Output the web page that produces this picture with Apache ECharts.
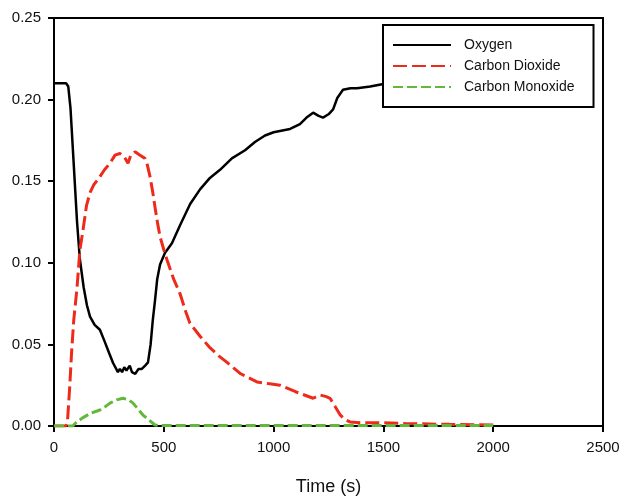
<!DOCTYPE html>
<html>
<head>
<meta charset="utf-8">
<script src="https://cdn.jsdelivr.net/npm/echarts@6/dist/echarts.min.js"></script>
<style>
  html, body { margin: 0; padding: 0; background: #fff; }
  #chart { width: 621px; height: 499px; }
</style>
</head>
<body>
<div id="chart"></div>
<script>
// gas concentration vs time
var seriesNames = ['Oxygen', 'Carbon Dioxide', 'Carbon Monoxide'];
var xTicks = [0, 500, 1000, 1500, 2000, 2500];
var yTicks = [0, 0.05, 0.10, 0.15, 0.20, 0.25];

var oxygen = [
    [0, 0.21], [55, 0.21], [65, 0.208], [75, 0.195], [90, 0.16], [105, 0.125],
    [118, 0.102], [135, 0.085], [150, 0.074], [164, 0.067], [185, 0.062], [209, 0.059],
    [230, 0.052], [250, 0.045], [269, 0.0386], [291, 0.033], [300, 0.035], [310, 0.033],
    [320, 0.036], [330, 0.034], [345, 0.037], [355, 0.033], [370, 0.032], [385, 0.035],
    [400, 0.035], [415, 0.037], [428, 0.039], [440, 0.05], [450, 0.065], [460, 0.077],
    [470, 0.09], [483, 0.099], [505, 0.106], [537, 0.112], [574, 0.123], [620, 0.136],
    [665, 0.145], [710, 0.152], [756, 0.157], [810, 0.164], [870, 0.169], [915, 0.174],
    [961, 0.178], [1000, 0.180], [1075, 0.182], [1120, 0.185], [1150, 0.189], [1180, 0.192],
    [1205, 0.190], [1225, 0.189], [1250, 0.191], [1271, 0.194], [1290, 0.201], [1316, 0.206],
    [1350, 0.207], [1380, 0.207], [1440, 0.208], [1500, 0.2096], [1600, 0.21], [2000, 0.21]
];
var carbonDioxide = [
    [0, 0], [55, 0], [62, 0.004], [72, 0.025], [80, 0.045], [90, 0.065], [105, 0.085],
    [118, 0.108], [132, 0.12], [148, 0.135], [164, 0.143], [182, 0.148], [200, 0.151],
    [230, 0.157], [255, 0.161], [278, 0.166], [300, 0.167], [320, 0.165], [337, 0.161],
    [350, 0.166], [369, 0.168], [390, 0.166], [414, 0.164], [425, 0.16], [437, 0.153],
    [450, 0.143], [460, 0.134], [472, 0.124], [483, 0.116], [500, 0.108], [514, 0.102],
    [545, 0.09], [574, 0.081], [600, 0.07], [619, 0.063], [665, 0.055], [710, 0.048],
    [750, 0.043], [788, 0.039], [850, 0.032], [924, 0.027], [975, 0.026], [1029, 0.025],
    [1100, 0.021], [1180, 0.017], [1211, 0.019], [1240, 0.018], [1257, 0.017], [1280, 0.012],
    [1302, 0.007], [1325, 0.004], [1348, 0.0025], [1400, 0.002], [1500, 0.002], [1600, 0.0015],
    [1800, 0.001], [2000, 0.0006]
];
var carbonMonoxide = [
    [0, 0], [85, 0], [100, 0.002], [130, 0.005], [170, 0.008], [209, 0.0098], [235, 0.012],
    [255, 0.014], [285, 0.016], [314, 0.017], [340, 0.016], [360, 0.014], [385, 0.01],
    [405, 0.0067], [430, 0.004], [460, 0.0006], [480, 0.0003], [2000, 0.0003]
];

var chart = echarts.init(document.getElementById('chart'));
var font = 'Arial, "Liberation Sans", sans-serif';

var option = {
    animation: false,
    backgroundColor: '#fff',
    grid: {
        left: 54,
        right: 18,
        top: 18,
        bottom: 73,
        outerBoundsMode: 'none',
        show: true,
        borderColor: '#000',
        borderWidth: 2
    },
    legend: {
        orient: 'vertical',
        left: 383,
        top: 25,
        padding: [13, 19, 13, 9],
        itemWidth: 58,
        itemHeight: 14,
        itemGap: 7,
        backgroundColor: '#fff',
        borderColor: '#000',
        borderWidth: 2,
        itemStyle: { opacity: 0 },
        data: seriesNames,
        textStyle: {
            fontFamily: font,
            fontSize: 14,
            color: '#111',
            padding: [0, 0, 0, 8]
        }
    },
    xAxis: {
        type: 'value',
        min: xTicks[0],
        max: xTicks[xTicks.length - 1],
        interval: 500,
        name: 'Time (s)',
        nameLocation: 'middle',
        nameGap: 52,
        nameTextStyle: { fontFamily: font, fontSize: 18, color: '#111' },
        axisLine: { lineStyle: { color: '#000', width: 2 } },
        axisTick: { length: 6, lineStyle: { color: '#000', width: 2 } },
        axisLabel: {
            fontFamily: font, fontSize: 15, color: '#111', margin: 14,
            formatter: function(v) { return String(v); }
        },
        splitLine: { show: false }
    },
    yAxis: {
        type: 'value',
        min: yTicks[0],
        max: yTicks[yTicks.length - 1],
        interval: 0.05,
        axisLine: { show: true, lineStyle: { color: '#000', width: 2 } },
        axisTick: { show: true, length: 6, lineStyle: { color: '#000', width: 2 } },
        axisLabel: {
            fontFamily: font, fontSize: 15, color: '#111', margin: 13,
            formatter: function(v) { return v.toFixed(2); }
        },
        splitLine: { show: false }
    },
    series: [{
        name: seriesNames[0],
        type: 'line',
        symbol: 'none',
        data: oxygen,
        lineStyle: { color: '#000', width: 2.5 },
        itemStyle: { color: '#000' }
    }, {
        name: seriesNames[1],
        type: 'line',
        symbol: 'none',
        data: carbonDioxide,
        lineStyle: { color: '#ee2a1b', width: 3, type: [14, 5] },
        itemStyle: { color: '#ee2a1b' }
    }, {
        name: seriesNames[2],
        type: 'line',
        symbol: 'none',
        data: carbonMonoxide,
        lineStyle: { color: '#62b83a', width: 3, type: [10, 4] },
        itemStyle: { color: '#62b83a' }
    }]
};
chart.setOption(option);
</script>
</body>
</html>
